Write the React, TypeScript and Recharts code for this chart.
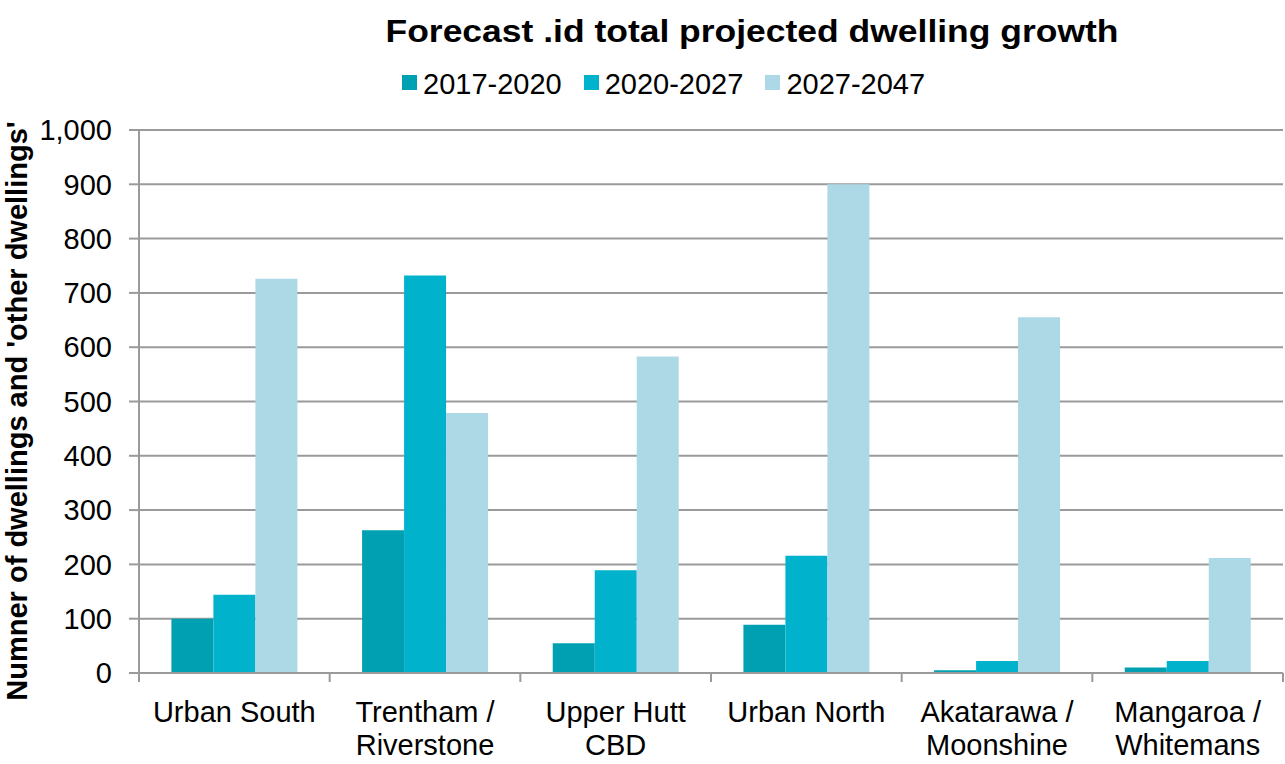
import React from "react";
import { BarChart, Bar, XAxis, YAxis, CartesianGrid } from "recharts";

const categories = [
  "Urban South",
  "Trentham / Riverstone",
  "Upper Hutt CBD",
  "Urban North",
  "Akatarawa / Moonshine",
  "Mangaroa / Whitemans",
];
const tickLines = [
  ["Urban South"],
  ["Trentham /", "Riverstone"],
  ["Upper Hutt", "CBD"],
  ["Urban North"],
  ["Akatarawa /", "Moonshine"],
  ["Mangaroa /", "Whitemans"],
];
const growth2017 = [100, 263, 55, 89, 5, 10];
const growth2020 = [144, 732, 189, 216, 22, 22];
const growth2027 = [726, 479, 583, 900, 655, 212];
const yTicks = [0, 100, 200, 300, 400, 500, 600, 700, 800, 900, 1000];

const seriesNames = ["2017-2020", "2020-2027", "2027-2047"];
const seriesColors = ["#00A0B3", "#00B2CB", "#ADD8E5"];

const data = categories.map((name, i) => ({
  name,
  s1: growth2017[i],
  s2: growth2020[i],
  s3: growth2027[i],
}));

const W = 1285;
const H = 764;
const PLOT_LEFT = 139;
const PLOT_RIGHT = 1283;
const PLOT_TOP = 130;
const PLOT_BOTTOM = 673;
const FONT = "'Liberation Sans', Arial, sans-serif";
const GRID = "#9A9A9A";
const halfBand = (PLOT_RIGHT - PLOT_LEFT) / categories.length / 2;

// category labels, plus the tick marks Excel puts between categories
const CategoryTick = (props: any) => {
  const { x, payload, index } = props;
  const lines: string[] = tickLines[index] || [payload.value];
  return (
    <g>
      <line x1={x - halfBand} x2={x - halfBand} y1={PLOT_BOTTOM} y2={PLOT_BOTTOM + 9} stroke={GRID} strokeWidth={2} />
      {index === categories.length - 1 && (
        <line x1={x + halfBand} x2={x + halfBand} y1={PLOT_BOTTOM} y2={PLOT_BOTTOM + 9} stroke={GRID} strokeWidth={2} />
      )}
      <text x={x} textAnchor="middle" fontSize={29} fill="#000" fontFamily={FONT}>
        {lines.map((l, k) => (
          <tspan key={k} x={x} y={PLOT_BOTTOM + 49 + k * 33}>
            {l}
          </tspan>
        ))}
      </text>
    </g>
  );
};

const AxisTitle = () => {
  const cx = 27;
  const cy = 411;
  return (
    <text
      x={cx}
      y={cy}
      transform={`rotate(-90, ${cx}, ${cy})`}
      textAnchor="middle"
      fontSize={29}
      fontWeight="bold"
      fontFamily={FONT}
      fill="#000"
    >
      Numner of dwellings and 'other dwellings'
    </text>
  );
};

export default function App() {
  return (
    <div style={{ position: "absolute", left: 0, top: 0, width: W, height: H, background: "#fff", fontFamily: FONT }}>
      <div
        style={{
          position: "absolute",
          left: 751.5,
          top: 16,
          transform: "translateX(-50%) scaleX(1.144)",
          whiteSpace: "nowrap",
          fontSize: 31,
          lineHeight: "31px",
          fontWeight: "bold",
          color: "#000",
        }}
      >
        Forecast .id total projected dwelling growth
      </div>
      <div style={{ position: "absolute", left: 402, top: 69, display: "flex", alignItems: "center" }}>
        {seriesNames.map((n, i) => (
          <div key={n} style={{ display: "flex", alignItems: "center", marginRight: i < 2 ? 22 : 0 }}>
            <div
              style={{
                width: 15,
                height: 15,
                background: seriesColors[i],
                marginRight: 6,
                position: "relative",
                top: -1.5,
              }}
            />
            <span style={{ fontSize: 29, lineHeight: "30px", color: "#000", whiteSpace: "nowrap" }}>{n}</span>
          </div>
        ))}
      </div>
      <div style={{ position: "absolute", left: 0, top: 0 }}>
        <BarChart
          width={W}
          height={H}
          data={data}
          margin={{ top: PLOT_TOP, right: W - PLOT_RIGHT, bottom: 0, left: 0 }}
          barCategoryGap="17%"
          barGap={0}
        >
          <CartesianGrid vertical={false} stroke={GRID} strokeWidth={2} />
          <XAxis
            dataKey="name"
            height={H - PLOT_BOTTOM}
            stroke={GRID}
            strokeWidth={2}
            tickLine={false}
            tick={<CategoryTick />}
            interval={0}
          />
          <YAxis
            width={PLOT_LEFT}
            domain={[0, 1000]}
            ticks={yTicks}
            interval={0}
            stroke={GRID}
            strokeWidth={2}
            tickSize={10}
            tickMargin={17}
            tickFormatter={(v: number) => v.toLocaleString("en-US")}
            tick={{ fontSize: 29, fill: "#000", fontFamily: FONT }}
            label={<AxisTitle />}
          />
          <Bar dataKey="s1" name={seriesNames[0]} fill={seriesColors[0]} isAnimationActive={false} />
          <Bar dataKey="s2" name={seriesNames[1]} fill={seriesColors[1]} isAnimationActive={false} />
          <Bar dataKey="s3" name={seriesNames[2]} fill={seriesColors[2]} isAnimationActive={false} />
        </BarChart>
      </div>
    </div>
  );
}
